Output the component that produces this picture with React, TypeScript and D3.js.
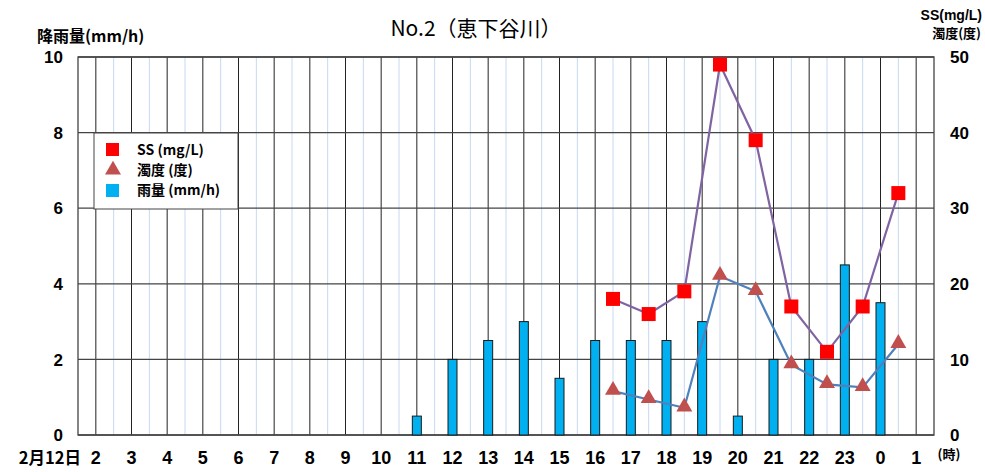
import React from "react";
import * as d3 from "d3";

// hours on the x axis (24 = 0時, 25 = 1時 of next day)
const hours = [2, 3, 4, 5, 6, 7, 8, 9, 10, 11, 12, 13, 14, 15, 16, 17, 18, 19, 20, 21, 22, 23, 24, 25];
const hourLabels = ["2", "3", "4", "5", "6", "7", "8", "9", "10", "11", "12", "13", "14", "15", "16", "17", "18", "19", "20", "21", "22", "23", "0", "1"];
const rain = [0, 0, 0, 0, 0, 0, 0, 0, 0, 0.5, 2, 2.5, 3, 1.5, 2.5, 2.5, 2.5, 3, 0.5, 2, 2, 4.5, 3.5, 0];

const sampleHours = [16.5, 17.5, 18.5, 19.5, 20.5, 21.5, 22.5, 23.5, 24.5];
const ss = [18, 16, 19, 49, 39, 17, 11, 17, 32];
const turbidity = [5.8, 4.7, 3.6, 21, 19, 9.3, 6.7, 6.3, 12];

const leftTicks = [0, 2, 4, 6, 8, 10];
const rightTicks = [0, 10, 20, 30, 40, 50];

const width = 985;
const height = 472;
const left = 78;
const right = 934;
const top = 57;
const bottom = 435;

const numFont = "'Liberation Sans', Arial, sans-serif";
const jpFont = "'Noto Sans CJK JP', sans-serif";

export default function App() {
  const x = d3.scaleLinear([1.5, 25.5], [left, right]);
  const yL = d3.scaleLinear([0, 10], [bottom, top]);
  const yR = d3.scaleLinear([0, 50], [bottom, top]);

  const halfHours = hours.map((h) => h + 0.5).slice(0, -1);
  const line = (vals: number[]) =>
    d3.line<number>((_, i) => x(sampleHours[i]), (d) => yR(d))(vals) ?? "";

  const barW = 9;
  const tri = d3.symbol(d3.symbolTriangle, 110)() ?? "";

  return (
    <svg width={width} height={height} style={{ position: "absolute", left: 0, top: 0, background: "#fff" }}>
      {/* half-hour light lines */}
      {halfHours.map((h) => (
        <line key={"hh" + h} x1={x(h)} x2={x(h)} y1={top} y2={bottom} stroke="#c6d9f1" strokeWidth={1} />
      ))}
      {/* hour lines */}
      {hours.map((h) => (
        <line key={"h" + h} x1={x(h)} x2={x(h)} y1={top} y2={bottom} stroke="#222" strokeWidth={1} />
      ))}
      {/* horizontal grid */}
      {leftTicks.map((t) => (
        <line key={"g" + t} x1={left} x2={right} y1={yL(t)} y2={yL(t)} stroke="#444" strokeWidth={1.3} />
      ))}
      <rect x={left} y={top} width={right - left} height={bottom - top} fill="none" stroke="#444" strokeWidth={1.3} />

      {/* rain bars */}
      {hours.map((h, i) =>
        rain[i] > 0 ? (
          <rect key={"b" + h} x={x(h) - barW / 2} y={yL(rain[i])} width={barW} height={bottom - yL(rain[i])}
            fill="#00b0f0" stroke="#1a1a1a" strokeWidth={1} />
        ) : null
      )}

      {/* lines */}
      <path d={line(ss)} fill="none" stroke="#8064a2" strokeWidth={2.2} />
      <path d={line(turbidity)} fill="none" stroke="#4f81bd" strokeWidth={2.2} />

      {/* markers */}
      {sampleHours.map((h, i) => (
        <rect key={"s" + h} x={x(h) - 7} y={yR(ss[i]) - 7} width={14} height={14} fill="#ff0000" />
      ))}
      {sampleHours.map((h, i) => (
        <path key={"t" + h} d={tri} transform={`translate(${x(h)},${yR(turbidity[i]) - 1})`} fill="#c0504d" />
      ))}

      {/* left axis */}
      {leftTicks.map((t) => (
        <text key={"lt" + t} x={63} y={yL(t)} dy="0.36em" textAnchor="end" fontFamily={numFont} fontWeight="bold" fontSize={17}>{t}</text>
      ))}
      {/* right axis */}
      {rightTicks.map((t) => (
        <text key={"rt" + t} x={950} y={yR(t)} dy="0.36em" textAnchor="start" fontFamily={numFont} fontWeight="bold" fontSize={17}>{t}</text>
      ))}
      {/* x axis labels */}
      {hours.map((h, i) => (
        <text key={"xl" + h} x={x(h)} y={464} textAnchor="middle" fontFamily={numFont} fontWeight="bold" fontSize={18}>{hourLabels[i]}</text>
      ))}
      <text x={81} y={464} textAnchor="end" fontFamily={jpFont} fontWeight="bold" fontSize={16.5}>2月12日</text>
      <text x={949} y={459} textAnchor="middle" fontFamily={jpFont} fontWeight="bold" fontSize={13}>(時)</text>

      {/* titles */}
      <text x={476} y={36} textAnchor="middle" fontFamily={jpFont} fontSize={21}>No.2（恵下谷川）</text>
      <text x={37} y={42} fontFamily={jpFont} fontWeight="bold" fontSize={16}>降雨量(mm/h)</text>
      <text x={982} y={20} textAnchor="end" fontFamily={numFont} fontWeight="bold" fontSize={14}>SS(mg/L)</text>
      <text x={981} y={38} textAnchor="end" fontFamily={jpFont} fontWeight="bold" fontSize={13}>濁度(度)</text>

      {/* legend */}
      <rect x={94} y={133} width={144} height={76} fill="#fff" stroke="#444" strokeWidth={1} />
      <rect x={106} y={143} width={13} height={13} fill="#ff0000" />
      <path d={tri} transform="translate(113,170)" fill="#c0504d" />
      <rect x={106} y={184} width={13} height={13} fill="#00b0f0" />
      <text x={137} y={155} fontFamily={jpFont} fontWeight="bold" fontSize={14}>SS (mg/L)</text>
      <text x={137} y={175} fontFamily={jpFont} fontWeight="bold" fontSize={14}>濁度 (度)</text>
      <text x={137} y={195} fontFamily={jpFont} fontWeight="bold" fontSize={14}>雨量 (mm/h)</text>
    </svg>
  );
}
